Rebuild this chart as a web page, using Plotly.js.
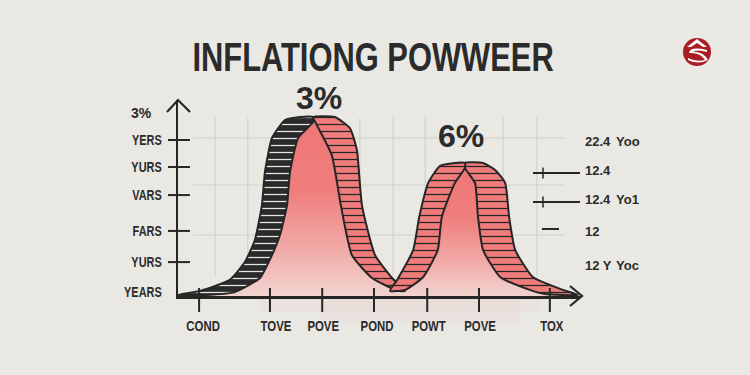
<!DOCTYPE html>
<html>
<head>
<meta charset="utf-8">
<script src="https://cdn.plot.ly/plotly-3.0.1.min.js"></script>
<style>html,body{margin:0;padding:0;background:#e9e8e3;}#chart{width:750px;height:375px;}</style>
</head>
<body>
<div id="chart"></div>
<script>
// ---------- data ----------
var titleText = 'INFLATIONG POWWEER';
var peakLabels = ['3%', '6%'];
var peakLabelX = [2.80, 5.63];
var peakLabelY = [10.12, 8.15];

var yTickVals = [7.96, 6.58, 5.15, 3.32, 1.73, 0.2];
var yTickText = ['YERS', 'YURS', 'VARS', 'FARS', 'YURS', 'YEARS'];
var yTopLabel = '3%';

var xTickMarks = [0.42, 1.83, 2.87, 3.90, 4.96, 5.99, 7.40];
var xLabelPos  = [0.50, 1.95, 2.89, 3.96, 4.99, 6.01, 7.44];
var xTickText  = ['COND', 'TOVE', 'POVE', 'POND', 'POWT', 'POVE', 'TOX'];

var rightValues = ['22.4', '12.4', '12.4', '12', '12 Y'];
var rightUnits  = ['Yoo', '', 'Yo1', '', 'Yoc'];
var rightRowY   = [7.86, 6.38, 4.90, 3.27, 1.58];

var gridX = [0.74, 1.39, 3.62, 4.28, 4.92, 6.47, 7.14];
var gridY = [8.06, 5.66, 3.11];

// peak 1, left band (outer edge then inner edge)
var p1LeftX = [0, 0.44, 1.03, 1.33, 1.53, 1.67, 1.73, 1.87, 2.13, 2.43, 2.69, 2.69, 2.39, 2.23, 2.17, 2.03, 1.87, 1.63, 1.13, 0.54, 0];
var p1LeftY = [0.05, 0.26, 0.82, 1.73, 2.86, 4.64, 6.33, 8.06, 8.98, 9.13, 9.13, 8.88, 8.06, 6.33, 4.64, 3.11, 2.09, 0.92, 0.20, 0.05, 0.05];
// peak 1, right band
var p1RightX = [2.69, 3.12, 3.42, 3.56, 3.66, 3.92, 4.26, 4.52, 4.38, 3.86, 3.46, 3.24, 3.06, 2.73, 2.69];
var p1RightY = [9.13, 9.13, 8.57, 7.45, 4.64, 2.09, 0.92, 0.26, 0.26, 0.92, 2.09, 4.64, 7.19, 8.88, 9.13];
// peak 2, left band
var p2LeftX = [4.22, 4.36, 4.68, 4.80, 4.98, 5.21, 5.51, 5.71, 5.71, 5.51, 5.25, 5.17, 4.88, 4.52, 4.22];
var p2LeftY = [0.26, 0.82, 2.35, 4.03, 5.77, 6.63, 6.79, 6.79, 6.53, 5.77, 4.03, 2.35, 0.97, 0.31, 0.26];
// peak 2, right band
var p2RightX = [5.71, 6.07, 6.31, 6.51, 6.59, 6.71, 7.06, 7.66, 7.96, 7.30, 7.00, 6.41, 6.07, 5.97, 5.91, 5.71, 5.71];
var p2RightY = [6.79, 6.79, 6.43, 5.77, 4.03, 2.35, 0.97, 0.31, 0.05, 0.10, 0.31, 0.97, 2.35, 4.03, 5.77, 6.53, 6.79];
// pink cores
var core1X = [0.54, 0.54, 1.13, 1.63, 1.87, 2.03, 2.17, 2.23, 2.39, 2.69, 3.06, 3.24, 3.46, 3.86, 4.38, 4.45];
var core1Y = [0, 0.05, 0.20, 0.92, 2.09, 3.11, 4.64, 6.33, 8.06, 8.88, 7.19, 4.64, 2.09, 0.92, 0.26, 0];
var core2X = [4.45, 4.52, 4.88, 5.17, 5.25, 5.51, 5.71, 5.91, 5.97, 6.07, 6.41, 7.00, 7.30, 7.50];
var core2Y = [0, 0.31, 0.97, 2.35, 4.03, 5.77, 6.53, 5.77, 4.03, 2.35, 0.97, 0.31, 0.10, 0];

// ---------- styles ----------
var INK = '#262626';
var TXT = '#2b2b2b';
var BG = '#e9e8e3';
var PINK = '#ee7676';
var SANS = 'Liberation Sans, Arial, sans-serif';

// pixel helpers for decorations (plot area: x 178..580, y 296..100)
function px(p) { return (p - 178) / 402; }
function py(p) { return (296 - p) / 196; }

function band(x, y, bg, fg) {
  return {
    x: x, y: y, type: 'scatter', mode: 'lines', fill: 'toself',
    line: {color: INK, width: 2, shape: 'spline', smoothing: 0.5},
    fillcolor: bg,
    fillpattern: {shape: '-', bgcolor: bg, fgcolor: fg, size: 7, solidity: 0.18},
    hoverinfo: 'skip', showlegend: false
  };
}
function core(x, y) {
  return {
    x: x, y: y, type: 'scatter', mode: 'lines', fill: 'toself',
    line: {color: 'rgba(0,0,0,0)', width: 0, shape: 'spline', smoothing: 0.5},
    fillgradient: {type: 'vertical', colorscale: [[0, '#f2d3cf'], [0.3, '#f1a6a3'], [0.6, '#ef7f7d'], [1, PINK]]},
    hoverinfo: 'skip', showlegend: false
  };
}

var traces = [
  core(core1X, core1Y),
  core(core2X, core2Y),
  band(p1LeftX, p1LeftY, '#2a2a2a', '#e6e6e6'),
  band(p1RightX, p1RightY, '#ef7b7b', INK),
  band(p2RightX, p2RightY, '#ef7b7b', INK),
  band(p2LeftX, p2LeftY, '#ef7b7b', INK)
];

// ---------- decorations ----------
var shapes = [];
// soft glow under the chart
[[230, 560, 300, 0.07], [260, 540, 312, 0.07], [320, 520, 322, 0.07]].forEach(function (g) {
  shapes.push({type: 'rect', xref: 'paper', yref: 'paper', x0: px(g[0]), x1: px(g[1]), y0: py(g[2]), y1: py(280),
    fillcolor: 'rgba(238,150,150,' + g[3] + ')', line: {width: 0}, layer: 'below'});
});
gridX.forEach(function (gx) {
  shapes.push({type: 'line', xref: 'x', yref: 'y', x0: gx, x1: gx, y0: 1.0, y1: 9.1,
    line: {color: '#d0cec8', width: 1}, layer: 'below'});
});
gridY.forEach(function (gy) {
  shapes.push({type: 'line', xref: 'x', yref: 'y', x0: 0.3, x1: 7.7, y0: gy, y1: gy,
    line: {color: '#d0cec8', width: 1}, layer: 'below'});
});
// y ticks crossing the axis
yTickVals.slice(0, 5).forEach(function (v) {
  shapes.push({type: 'line', xref: 'paper', yref: 'y', x0: px(168), x1: px(190), y0: v, y1: v,
    line: {color: INK, width: 2}});
});
// x ticks crossing the axis
xTickMarks.forEach(function (v) {
  shapes.push({type: 'line', xref: 'x', yref: 'paper', x0: v, x1: v, y0: py(288), y1: py(312),
    line: {color: INK, width: 2}});
});
// arrow heads
shapes.push({type: 'path', xref: 'paper', yref: 'paper',
  path: 'M ' + px(570) + ' ' + py(286) + ' L ' + px(582) + ' ' + py(296) + ' L ' + px(570) + ' ' + py(306),
  line: {color: INK, width: 2.2}});
shapes.push({type: 'path', xref: 'paper', yref: 'paper',
  path: 'M ' + px(167) + ' ' + py(112) + ' L ' + px(178) + ' ' + py(100) + ' L ' + px(190) + ' ' + py(112),
  line: {color: INK, width: 2.2}});
// right-side small markers
[1, 2].forEach(function (i) {
  shapes.push({type: 'line', xref: 'paper', yref: 'y', x0: px(533), x1: px(580), y0: rightRowY[i] - 0.1, y1: rightRowY[i] - 0.1,
    line: {color: INK, width: 2}});
  shapes.push({type: 'line', xref: 'paper', yref: 'y', x0: px(543), x1: px(543), y0: rightRowY[i] + 0.18, y1: rightRowY[i] - 0.38,
    line: {color: INK, width: 1.5}});
});
shapes.push({type: 'line', xref: 'paper', yref: 'y', x0: px(542), x1: px(559), y0: rightRowY[3] + 0.15, y1: rightRowY[3] + 0.15,
  line: {color: INK, width: 2}});
// logo (centre 697,52 ; radius 14)
shapes.push({type: 'circle', xref: 'paper', yref: 'paper', x0: px(683), x1: px(711), y0: py(66), y1: py(38),
  fillcolor: '#a91d23', line: {width: 0}});
shapes.push({type: 'path', xref: 'paper', yref: 'paper',
  path: 'M ' + px(687) + ' ' + py(47) + ' L ' + px(697) + ' ' + py(39) + ' L ' + px(707) + ' ' + py(47) +
        ' L ' + px(703) + ' ' + py(47) + ' L ' + px(697) + ' ' + py(43) + ' L ' + px(691) + ' ' + py(47) + ' Z',
  fillcolor: '#ffffff', line: {width: 0}});
shapes.push({type: 'path', xref: 'paper', yref: 'paper',
  path: 'M ' + px(707) + ' ' + py(50) + ' Q ' + px(690) + ' ' + py(46) + ' ' + px(689) + ' ' + py(53) +
        ' Q ' + px(700) + ' ' + py(52) + ' ' + px(705) + ' ' + py(60) + ' Q ' + px(696) + ' ' + py(62) + ' ' + px(688) + ' ' + py(58) +
        ' L ' + px(688) + ' ' + py(60) + ' Q ' + px(698) + ' ' + py(65) + ' ' + px(708) + ' ' + py(60) +
        ' Q ' + px(703) + ' ' + py(51) + ' ' + px(693) + ' ' + py(52) + ' Q ' + px(697) + ' ' + py(49) + ' ' + px(707) + ' ' + py(52) + ' Z',
  fillcolor: '#ffffff', line: {width: 0}});

var annotations = [];
annotations.push({xref: 'paper', yref: 'paper', x: px(372.5), y: py(56.5),
  text: titleText, showarrow: false, xanchor: 'center', yanchor: 'middle',
  font: {family: SANS, size: 40, color: TXT, weight: 'bold'}});
peakLabels.forEach(function (t, i) {
  annotations.push({xref: 'x', yref: 'paper', x: peakLabelX[i], y: peakLabelY[i] / 10, text: t, showarrow: false,
    xanchor: 'center', yanchor: 'middle', font: {family: SANS, size: 32, color: TXT, weight: 'bold'}});
});
annotations.push({xref: 'paper', yref: 'paper', x: px(141), y: py(113), text: yTopLabel, showarrow: false,
  xanchor: 'center', yanchor: 'middle', font: {family: SANS, size: 14, color: TXT, weight: 'bold'}});
rightValues.forEach(function (t, i) {
  annotations.push({xref: 'paper', yref: 'y', x: px(583), y: rightRowY[i], text: t, showarrow: false,
    xanchor: 'left', yanchor: 'middle', font: {family: SANS, size: 13, color: TXT, weight: 'bold'}});
  if (rightUnits[i]) {
    annotations.push({xref: 'paper', yref: 'y', x: px(614), y: rightRowY[i], text: rightUnits[i], showarrow: false,
      xanchor: 'left', yanchor: 'middle', font: {family: SANS, size: 13, color: TXT, weight: 'bold'}});
  }
});

var layout = {
  width: 750, height: 375,
  paper_bgcolor: BG, plot_bgcolor: BG,
  margin: {l: 178, r: 170, t: 100, b: 79, pad: 0},
  showlegend: false,
  xaxis: {range: [0, 8], showgrid: false, zeroline: false, showline: true, linecolor: INK, linewidth: 2.5,
    tickvals: xLabelPos, ticktext: xTickText, ticks: '', ticklabelstandoff: 15,
    tickfont: {family: SANS, size: 15, color: TXT, weight: 'bold'}, fixedrange: true},
  yaxis: {range: [0, 10], showgrid: false, zeroline: false, showline: true, linecolor: INK, linewidth: 2.5,
    tickvals: yTickVals, ticktext: yTickText, ticks: '', ticklabelstandoff: 11,
    tickfont: {family: SANS, size: 14, color: TXT, weight: 'bold'}, fixedrange: true},
  shapes: shapes,
  annotations: annotations
};

// horizontally condense text (the reference uses a narrow typeface)
function condense(nodes, s) {
  nodes.forEach(function (t) {
    var x = parseFloat(t.getAttribute('x')) || 0;
    var tr = t.getAttribute('transform') || '';
    t.setAttribute('transform', tr + ' translate(' + x + ',0) scale(' + s + ',1) translate(' + (-x) + ',0)');
  });
}

Plotly.newPlot('chart', traces, layout, {staticPlot: true, displayModeBar: false}).then(function (gd) {
  condense(gd.querySelectorAll('.annotation[data-index="0"] .annotation-text'), 0.772);
  condense(gd.querySelectorAll('.xtick > text'), 0.76);
  condense(gd.querySelectorAll('.ytick > text'), 0.78);
});
</script>
</body>
</html>
